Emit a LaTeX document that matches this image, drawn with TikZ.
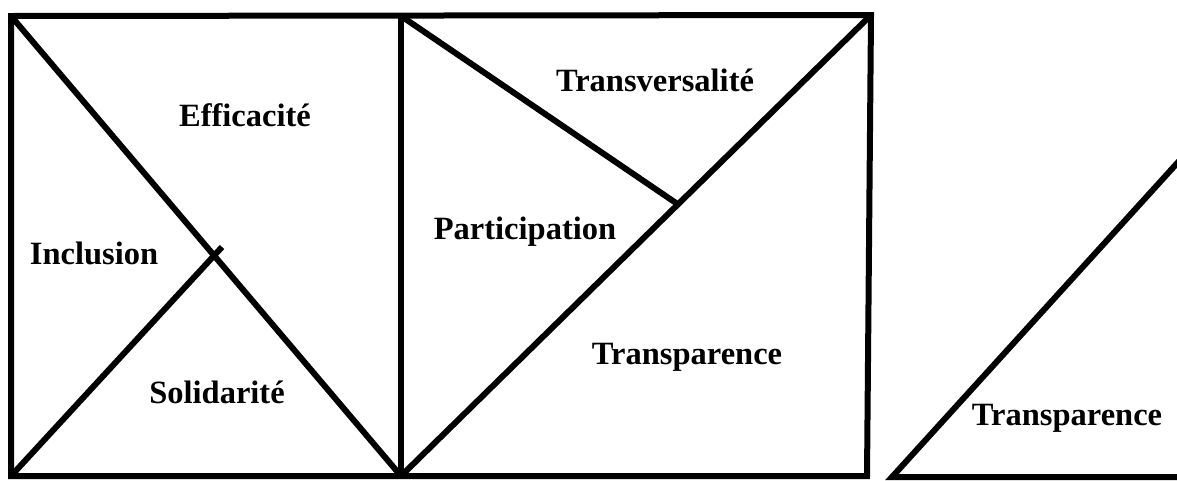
\documentclass[tikz,border=0pt]{standalone}
\usepackage{fontspec}
\setmainfont{Liberation Serif}
\begin{document}
\begin{tikzpicture}[x=1pt,y=-1pt,line width=6pt,
	word/.style={font=\fontsize{32.5}{38}\selectfont\bfseries,inner sep=0}]
\useasboundingbox (0,0) rectangle (1177,480);
\coordinate (tl) at (11,16);
\coordinate (tm) at (401,16);
\coordinate (tr) at (871,15);
\coordinate (bl) at (11,476);
\coordinate (bm) at (401,476);
\coordinate (br) at (867,476);
\coordinate (cross) at (222,247);
\coordinate (meet) at (676,203);
\coordinate (ta) at (892,477);
\coordinate (tb) at (1180,477);
\coordinate (tc) at (1180,160);
\draw (tl) -- (tr) -- (br) -- (bl) -- cycle;
\draw (tm) -- (bm);
\draw (tl) -- (bm);
\draw (bl) -- (cross);
\draw (bm) -- (tr);
\draw (tm) -- (meet);
\draw (tc) -- (ta) -- (tb);
\node[word] (eff) at (245,115) {Efficacité};
\node[word] (inc) at (94,253) {Inclusion};
\node[word] (sol) at (217,392) {Solidarité};
\node[word] (tra) at (655,80) {Transversalité};
\node[word] (par) at (525,232) {Participation};
\node[word] (trp) at (687,357) {Transparence};
\node[word] (trq) at (1067,418) {Transparence};
\end{tikzpicture}
\end{document}
